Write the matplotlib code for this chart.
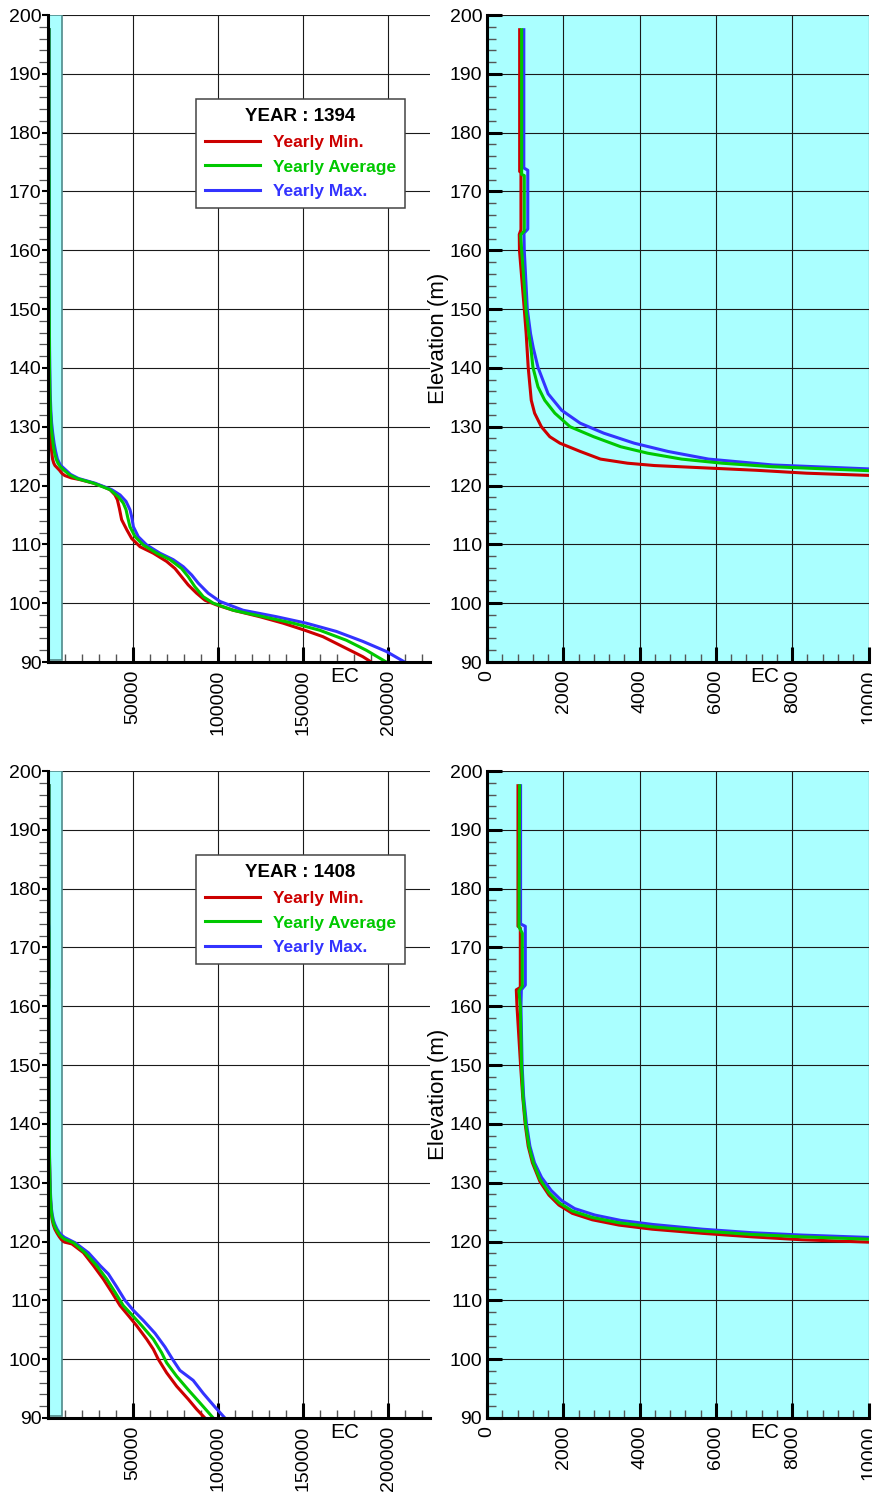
import numpy as np
import matplotlib
matplotlib.use('Agg')
import matplotlib.pyplot as plt
from matplotlib.patches import Rectangle
from matplotlib.ticker import MultipleLocator, FixedLocator

plt.rcParams.update({
    'font.family': ['Liberation Sans', 'DejaVu Sans'],
    'font.size': 14,
    'axes.linewidth': 2.2,
})

# ---- data: elevation (m) vs EC, year 1394 ----
elev_min_1394 = [197.5, 173.4, 173.2, 163.5, 162.7, 160.0, 150.0, 145.8, 140.1, 134.5,
                 132.3, 130.0, 128.3, 127.2, 125.8, 124.5, 123.8, 123.4, 123.0, 122.6,
                 122.1, 121.7, 121.3, 121.0, 120.4, 119.8, 119.3, 118.4, 117.6, 116.1,
                 114.2, 112.5, 111.0, 109.6, 108.5, 107.1, 105.9, 104.5, 103.1, 101.7,
                 100.5, 99.7, 98.8, 97.7, 96.6, 95.4, 94.3, 92.6, 90.9, 90.0]
ec_min_1394 = [856, 856, 890, 890, 846, 851, 977, 1027, 1080, 1160,
               1248, 1425, 1646, 1912, 2443, 2974, 3682, 4390, 5717, 7045,
               8372, 10115, 14000, 19100, 27000, 32800, 36700, 39600, 41000, 42200,
               43500, 46500, 49400, 54300, 62100, 69900, 74800, 78700, 82600, 87500,
               92400, 99200, 109000, 124600, 138300, 151000, 161700, 173400, 185100, 190000]

elev_avg_1394 = [197.5, 172.9, 172.7, 163.3, 162.6, 160.0, 150.0, 145.8, 143.4, 140.1,
                 136.8, 134.5, 132.3, 130.0, 128.3, 126.6, 125.5, 124.5, 123.8, 123.2,
                 122.5, 121.8, 121.2, 120.4, 119.3, 118.1, 117.0, 115.9, 114.7, 113.0,
                 111.3, 109.9, 108.5, 107.4, 105.9, 104.5, 102.8, 101.1, 100.0, 98.8,
                 97.7, 96.6, 95.4, 93.7, 92.0, 90.0]
ec_avg_1394 = [908, 908, 977, 977, 882, 908, 1021, 1097, 1150, 1204,
               1336, 1513, 1779, 2177, 2797, 3505, 4213, 5098, 6160, 7487,
               10115, 13000, 17200, 27000, 36700, 41600, 44500, 46100, 47000, 48400,
               51400, 56200, 64100, 71900, 78700, 82600, 86500, 91400, 97300, 109000,
               126600, 144100, 159800, 175400, 187100, 198800]

elev_max_1394 = [197.5, 174.0, 173.6, 163.6, 162.9, 160.0, 150.0, 145.8, 143.4, 140.1,
                 135.6, 132.8, 130.6, 128.9, 127.2, 125.8, 124.5, 123.5, 122.8, 121.9,
                 121.2, 120.4, 119.3, 118.4, 117.3, 115.9, 114.7, 113.0, 111.3, 109.9,
                 108.5, 107.4, 106.2, 104.8, 103.4, 101.7, 100.3, 98.8, 97.7, 96.6,
                 95.2, 93.5, 91.8, 90.0]
ec_max_1394 = [965, 965, 1069, 1069, 969, 977, 1056, 1142, 1213, 1336,
               1602, 1956, 2443, 3062, 3859, 4744, 5806, 7487, 10115, 13500,
               18200, 27900, 37700, 42600, 46100, 48400, 49400, 50400, 53300, 58200,
               66000, 73800, 79700, 84600, 88500, 94300, 101200, 114800, 134400, 151900,
               169500, 185100, 198800, 209600]

# ---- data: year 1408 ----
elev_min_1408 = [197.5, 173.6, 173.3, 163.2, 162.8, 160.0, 150.0, 144.7, 140.0, 136.2,
                 133.4, 130.2, 127.9, 126.2, 124.8, 123.7, 122.8, 122.1, 121.4, 120.8,
                 120.3, 119.9, 119.6, 118.1, 115.9, 113.6, 111.4, 109.1, 107.4, 105.7,
                 103.4, 101.7, 100.0, 97.7, 95.4, 93.2, 91.5, 90.0]
ec_min_1408 = [812, 812, 873, 873, 768, 786, 880, 935, 1000, 1080,
               1190, 1388, 1624, 1886, 2235, 2759, 3457, 4330, 5640, 6949,
               8259, 10005, 14300, 21100, 27000, 32800, 37700, 42600, 47500, 52300,
               58200, 62100, 65000, 69900, 75800, 82600, 87500, 92400]

elev_avg_1408 = [197.5, 173.5, 172.4, 163.4, 162.6, 160.0, 150.0, 144.7, 140.0, 136.2,
                 133.4, 130.6, 128.3, 126.6, 125.2, 124.1, 123.2, 122.5, 121.8, 121.2,
                 120.8, 120.4, 119.8, 118.1, 115.9, 113.6, 111.4, 109.1, 107.4, 105.7,
                 103.4, 101.1, 99.4, 97.1, 94.8, 92.6, 90.0]
ec_avg_1408 = [855, 838, 925, 925, 838, 873, 905, 943, 1013, 1100,
               1213, 1388, 1624, 1886, 2235, 2759, 3457, 4330, 5640, 6949,
               8259, 10005, 15200, 22100, 28900, 34800, 39600, 44500, 50000, 55300,
               62100, 67000, 69900, 75800, 82600, 89400, 97300]

elev_max_1408 = [197.5, 174.0, 173.6, 163.6, 162.8, 160.0, 150.0, 144.7, 140.0, 136.2,
                 133.4, 130.9, 128.7, 127.0, 125.6, 124.5, 123.6, 122.9, 122.1, 121.5,
                 121.1, 120.7, 119.8, 118.1, 115.9, 114.5, 112.3, 110.0, 108.3, 106.6,
                 104.4, 102.1, 99.8, 98.1, 96.4, 94.2, 91.9, 90.0]
ec_max_1408 = [880, 880, 1004, 1004, 900, 890, 920, 960, 1035, 1125,
               1245, 1430, 1680, 1950, 2300, 2830, 3500, 4350, 5650, 6950,
               8260, 10005, 16200, 24000, 30900, 35700, 40600, 45500, 50400, 56200,
               63100, 68900, 73800, 77700, 85500, 91400, 98200, 104100]

series_labels = ['Yearly Min.', 'Yearly Average', 'Yearly Max.']
series_colors = ['#cc0000', '#00c800', '#3333ff']
years = ['1394', '1408']

CYAN = '#aaffff'
W, H = 872, 1493

fig = plt.figure(figsize=(W / 100, H / 100), dpi=100)


def px_axes(x0, y0, x1, y1):
    return fig.add_axes([x0 / W, 1 - y1 / H, (x1 - x0) / W, (y1 - y0) / H])


def style_common(ax):
    ax.set_ylim(90, 200)
    ax.yaxis.set_major_locator(MultipleLocator(10))
    ax.yaxis.set_minor_locator(MultipleLocator(2))
    ax.spines['top'].set_visible(False)
    ax.spines['right'].set_visible(False)
    for s in ('left', 'bottom'):
        ax.spines[s].set_zorder(4)
    ax.set_axisbelow(True)
    ax.grid(True, which='major', color='#1a1a1a', linewidth=0.8)
    ax.tick_params(axis='x', which='major', direction='in', length=11, width=2.2,
                   labelrotation=90, pad=5.5, labelsize=14)
    ax.tick_params(axis='x', which='minor', direction='in', length=5.5, width=1,
                   color='#555555')


def plot_series(ax, data):
    lines = []
    for (el, ec), lab, col, z in zip(data, series_labels, series_colors, [3.1, 3.3, 3.2]):
        ln, = ax.plot(ec, el, color=col, lw=2.2, label=lab, zorder=z,
                      solid_joinstyle='round')
        lines.append(ln)
    return lines


datasets = [
    [(elev_min_1394, ec_min_1394), (elev_avg_1394, ec_avg_1394), (elev_max_1394, ec_max_1394)],
    [(elev_min_1408, ec_min_1408), (elev_avg_1408, ec_avg_1408), (elev_max_1408, ec_max_1408)],
]

rows = [(15, 662), (771, 1418)]

for (y0, y1), data, year in zip(rows, datasets, years):
    # left panel: full range
    axl = px_axes(47.5, y0, 430, y1)
    style_common(axl)
    axl.set_xlim(0, 224500)
    axl.xaxis.set_major_locator(FixedLocator([50000, 100000, 150000, 200000]))
    axl.xaxis.set_minor_locator(MultipleLocator(10000))
    axl.tick_params(axis='y', which='major', direction='out', length=4, width=1.5,
                    pad=0.5, labelsize=14)
    axl.tick_params(axis='y', which='minor', direction='out', length=6.5, width=0.9,
                    color='#555555')
    axl.add_patch(Rectangle((0, 90.4), 8500, 109.6, facecolor=CYAN,
                            edgecolor='#4f8a8a', lw=1.2, zorder=2))
    lines = plot_series(axl, data)
    axl.text(0.778, -0.023, 'EC', transform=axl.transAxes, ha='center', va='center',
             fontsize=15)
    leg = axl.legend(handles=lines, loc='upper left', bbox_to_anchor=(0.388, 0.870),
                     title='YEAR : ' + year,
                     title_fontproperties={'weight': 'bold', 'size': 13.5},
                     prop={'weight': 'bold', 'size': 12.5}, labelcolor='linecolor',
                     fancybox=False, framealpha=1, edgecolor='#444444',
                     borderpad=0.5, handlelength=3.2, handletextpad=0.75,
                     labelspacing=0.56, borderaxespad=0)
    leg.get_frame().set_linewidth(1.1)

    # right panel: zoom on low EC
    axr = px_axes(487, y0, 868.5, y1)
    style_common(axr)
    axr.set_facecolor(CYAN)
    axr.set_xlim(0, 10000)
    axr.xaxis.set_major_locator(MultipleLocator(2000))
    axr.xaxis.set_minor_locator(MultipleLocator(400))
    axr.tick_params(axis='y', which='major', direction='in', length=11, width=2.2,
                    pad=3.5, labelsize=14)
    axr.tick_params(axis='y', which='minor', direction='in', length=6.5, width=1,
                    color='#555555')
    plot_series(axr, data)
    axr.text(0.729, -0.023, 'EC', transform=axr.transAxes, ha='center', va='center',
             fontsize=15)
    axr.set_ylabel('Elevation (m)', fontsize=16)
    axr.yaxis.set_label_coords(-0.10, 0.5)

fig.savefig('out.png', dpi=100, facecolor='white')
